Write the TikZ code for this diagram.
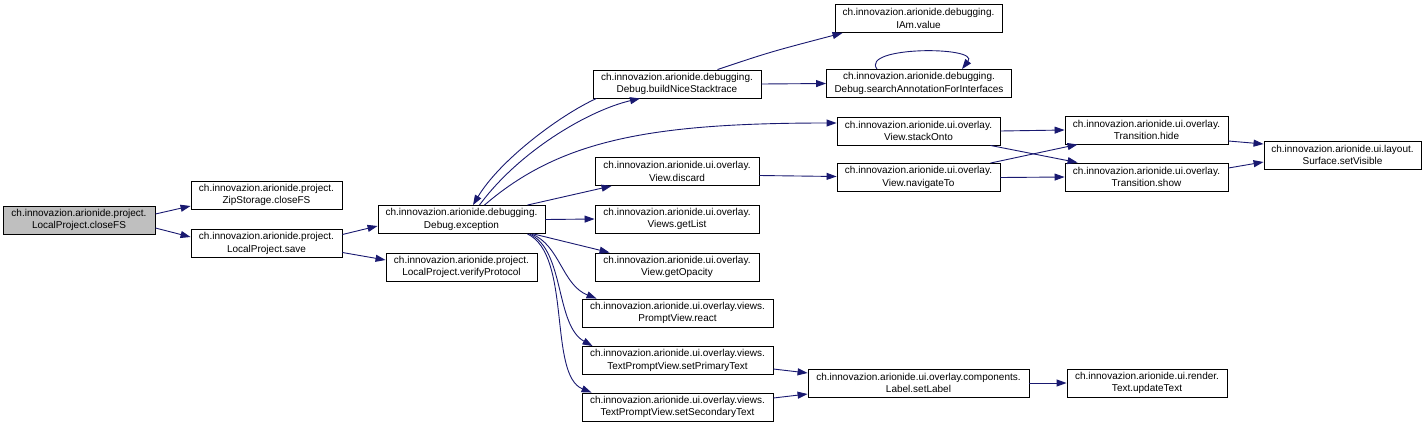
\documentclass[tikz,border=0pt]{standalone}
\usepackage{fontspec}
\setmainfont{Liberation Sans}
\usetikzlibrary{arrows.meta,calc}
\definecolor{navy}{HTML}{191970}
\definecolor{hlgray}{HTML}{BFBFBF}
\tikzset{
  box/.style={draw=black, line width=0.9pt, fill=white, inner sep=0pt, minimum height=28pt, align=center, font=\fontsize{10}{12.5}\selectfont},
  edge/.style={draw=navy, line width=0.9pt, -{Triangle[length=10pt,width=7pt]}}
}
\begin{document}
\begin{tikzpicture}[x=1pt,y=-1pt]
\useasboundingbox (0,0) rectangle (1427,426);
\node[box, minimum width=152pt, fill=hlgray] (A) at (79,220) {ch.innovazion.arionide.project.\\LocalProject.closeFS};
\node[box, minimum width=151pt] (B) at (266.5,195) {ch.innovazion.arionide.project.\\ZipStorage.closeFS};
\node[box, minimum width=151pt] (C) at (266.5,243.5) {ch.innovazion.arionide.project.\\LocalProject.save};
\node[box, minimum width=167pt] (D) at (461.5,219.5) {ch.innovazion.arionide.debugging.\\Debug.exception};
\node[box, minimum width=151pt] (E) at (461.5,267) {ch.innovazion.arionide.project.\\LocalProject.verifyProtocol};
\node[box, minimum width=168pt] (F) at (677,84) {ch.innovazion.arionide.debugging.\\Debug.buildNiceStacktrace};
\node[box, minimum width=167pt] (G) at (918.5,18.5) {ch.innovazion.arionide.debugging.\\IAm.value};
\node[box, minimum width=185pt] (H) at (919,83.5) {ch.innovazion.arionide.debugging.\\Debug.searchAnnotationForInterfaces};
\node[box, minimum width=163pt] (I) at (918.5,131) {ch.innovazion.arionide.ui.overlay.\\View.stackOnto};
\node[box, minimum width=163pt] (J) at (918.5,177.5) {ch.innovazion.arionide.ui.overlay.\\View.navigateTo};
\node[box, minimum width=164pt] (K) at (677,171.5) {ch.innovazion.arionide.ui.overlay.\\View.discard};
\node[box, minimum width=164pt] (L) at (677,219) {ch.innovazion.arionide.ui.overlay.\\Views.getList};
\node[box, minimum width=164pt] (M) at (677,267) {ch.innovazion.arionide.ui.overlay.\\View.getOpacity};
\node[box, minimum width=191pt] (N) at (677.5,313) {ch.innovazion.arionide.ui.overlay.views.\\PromptView.react};
\node[box, minimum width=191pt] (O) at (677.5,360.5) {ch.innovazion.arionide.ui.overlay.views.\\TextPromptView.setPrimaryText};
\node[box, minimum width=191pt] (P) at (677.5,407) {ch.innovazion.arionide.ui.overlay.views.\\TextPromptView.setSecondaryText};
\node[box, minimum width=221pt] (Q) at (918.5,383) {ch.innovazion.arionide.ui.overlay.components.\\Label.setLabel};
\node[box, minimum width=160pt] (R) at (1147,383) {ch.innovazion.arionide.ui.render.\\Text.updateText};
\node[box, minimum width=163pt] (S) at (1146.5,130) {ch.innovazion.arionide.ui.overlay.\\Transition.hide};
\node[box, minimum width=163pt] (T) at (1146.5,177) {ch.innovazion.arionide.ui.overlay.\\Transition.show};
\node[box, minimum width=157pt] (U) at (1342.5,155) {ch.innovazion.arionide.ui.layout.\\Surface.setVisible};

\draw[edge] ($(A.east)+(0,-6)$) -- ($(B.west)+(0,11)$);
\draw[edge] ($(A.east)+(0,8)$) -- ($(C.west)+(0,-6.5)$);
\draw[edge] ($(C.east)+(0,-9)$) -- ($(D.west)+(0,6.5)$);
\draw[edge] ($(C.east)+(0,9)$) -- ($(E.west)+(0,-7)$);
\draw[edge] ($(D.north)+(18,0)$) .. controls (520,150) and (590,110) .. ($(F.south)+(-37,0)$);
\draw[edge] ($(F.south west)+(4,0)$) .. controls (560,115) and (500,160) .. ($(D.north)+(11.5,0)$);
\draw[edge] ($(D.north)+(23,0)$) .. controls (560,140) and (650,123) .. ($(I.west)+(0,-8)$);
\draw[edge] ($(D.north east)+(-18,0)$) -- ($(K.south west)+(17,0)$);
\draw[edge] (D.east) -- (L.west);
\draw[edge] ($(D.south east)+(-12,0)$) -- ($(M.north west)+(15,0)$);
\draw[edge] ($(D.south east)+(-14,0)$) .. controls (560,245) and (562,285) .. ($(N.north west)+(15,0)$);
\draw[edge] ($(D.south east)+(-16,0)$) .. controls (565,250) and (555,325) .. ($(O.north west)+(11,0)$);
\draw[edge] ($(D.south east)+(-18,0)$) .. controls (572,255) and (548,375) .. ($(P.north west)+(10,0)$);
\draw[edge] ($(F.north east)+(-44,0)$) .. controls (770,52) .. ($(G.south west)+(8,0)$);
\draw[edge] (F.east) -- (H.west);
\draw[edge] ($(H.north)+(-42,0)$) .. controls (860,46) and (980,46) .. ($(H.north)+(43,0)$);
\draw[edge] ($(K.east)+(0,4)$) -- ($(J.west)+(0,-1)$);
\draw[edge] (I.east) -- (S.west);
\draw[edge] ($(I.south east)+(-10,0)$) -- ($(T.north west)+(13,0)$);
\draw[edge] ($(J.north east)+(-10,0)$) -- ($(S.south west)+(13,0)$);
\draw[edge] (J.east) -- (T.west);
\draw[edge] ($(S.east)+(0,11)$) -- ($(U.west)+(0,-11)$);
\draw[edge] ($(T.east)+(0,-9)$) -- ($(U.west)+(0,7)$);
\draw[edge] ($(O.east)+(0,8.5)$) -- ($(Q.west)+(0,-10)$);
\draw[edge] ($(P.east)+(0,-9)$) -- ($(Q.west)+(0,11)$);
\draw[edge] (Q.east) -- (R.west);
\end{tikzpicture}
\end{document}
